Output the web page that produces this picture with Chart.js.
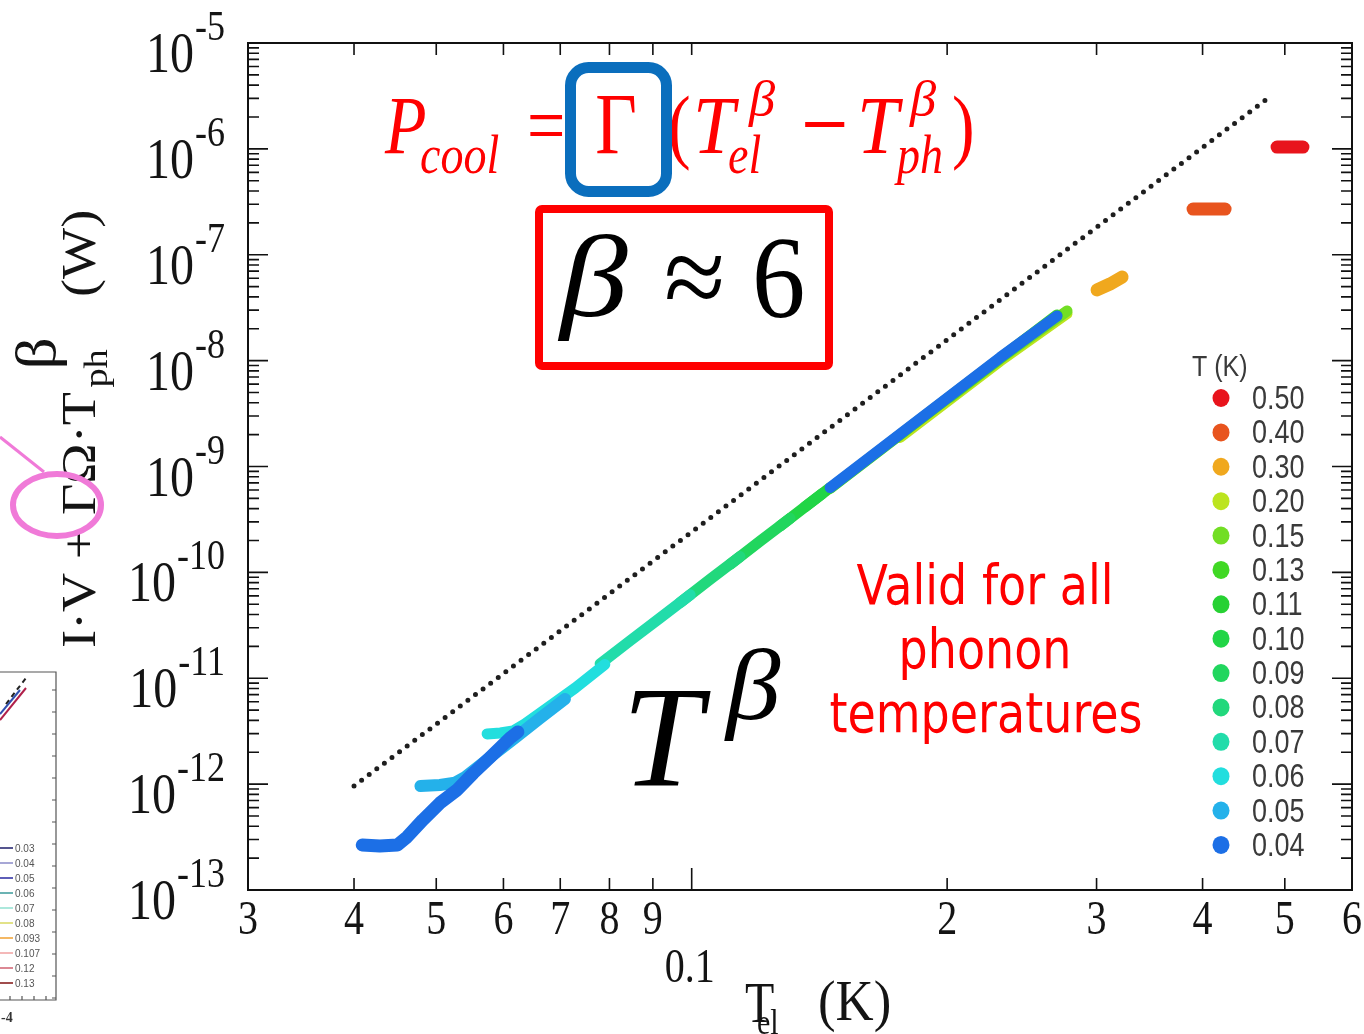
<!DOCTYPE html>
<html lang="en">
<head>
<meta charset="UTF-8">
<title>Cooling power vs electron temperature</title>
<script src="https://cdn.jsdelivr.net/npm/chart.js"></script>
<style>
  html, body { margin: 0; padding: 0; background: #fff; }
  canvas { display: block; }
</style>
</head>
<body>
<canvas id="chart" width="1364" height="1034"></canvas>
<script>
  // phonon temperatures (K) in the legend, top to bottom
  const tphLabels = ['0.50', '0.40', '0.30', '0.20', '0.15', '0.13', '0.11', '0.10', '0.09', '0.08', '0.07', '0.06', '0.05', '0.04'];
  const tphColors = ['#e8141c', '#e8541e', '#f0a81e', '#bce41f', '#72de24', '#40d824', '#27d133', '#21d546', '#21d65e', '#21d87c', '#22dcaa', '#22dede', '#24b1ea', '#1c6fe6'];

  // [T_el (K), I·V + ΓΩ·T_ph^β (W)] along each measured curve
  const s050 = [[0.4896, 1.04e-6], [0.5071, 1.04e-6], [0.5252, 1.04e-6]];
  const s040 = [[0.3898, 2.70e-7], [0.4071, 2.70e-7], [0.4252, 2.70e-7]];
  const s030 = [[0.3004, 4.65e-8], [0.3111, 5.29e-8], [0.3215, 6.16e-8]];
  const s020 = [[0.1760, 1.88e-9], [0.2309, 9.9e-9], [0.2769, 2.78e-8]];
  const s015 = [[0.2016, 4.5e-9], [0.2309, 1.04e-8], [0.2769, 2.94e-8]];
  const s013 = [[0.1456, 6.2e-10], [0.2016, 4.6e-9], [0.2695, 2.7e-8]];
  const s011 = [[0.1360, 4.16e-10], [0.1456, 6.31e-10]];
  const s010 = [[0.1271, 2.74e-10], [0.1360, 4.16e-10], [0.1424, 5.52e-10]];
  const s009 = [[0.1110, 1.19e-10], [0.1204, 1.97e-10], [0.1306, 3.24e-10]];
  const s008 = [[0.0969, 5.19e-11], [0.1051, 8.57e-11], [0.1140, 1.41e-10]];
  const s007 = [[0.0780, 1.37e-11], [0.0846, 2.26e-11], [0.0918, 3.72e-11], [0.0996, 6.14e-11]];
  const s006 = [[0.0574, 2.98e-12], [0.0595, 3.04e-12], [0.0616, 3.18e-12], [0.0636, 3.70e-12], [0.0681, 5.47e-12], [0.0729, 8.09e-12], [0.0790, 1.35e-11]];
  const s005 = [[0.0479, 9.60e-13], [0.0505, 9.81e-13], [0.0526, 1.03e-12], [0.0541, 1.17e-12], [0.0579, 1.80e-12], [0.0619, 2.73e-12], [0.0663, 4.21e-12], [0.0709, 6.37e-12]];
  const s004 = [[0.0409, 2.66e-13], [0.0429, 2.60e-13], [0.0450, 2.66e-13], [0.0462, 3.17e-13], [0.0482, 4.58e-13], [0.0505, 6.63e-13], [0.0529, 8.80e-13], [0.0553, 1.27e-12], [0.0579, 1.80e-12], [0.0611, 2.73e-12], [0.0624, 3.11e-12]];
  const s004hi = [[0.1456, 6.31e-10], [0.1760, 2.02e-9], [0.2016, 4.64e-9], [0.2309, 1.07e-8], [0.2695, 2.64e-8]];

  // T^6 guide line end points
  const guide = [[0.040, 9.6e-13], [0.478, 3.02e-6]];

  // axis ticks
  const xTicks = [0.03, 0.04, 0.05, 0.06, 0.07, 0.08, 0.09, 0.1, 0.2, 0.3, 0.4, 0.5, 0.6];
  const xTickText = ['3', '4', '5', '6', '7', '8', '9', '0.1', '2', '3', '4', '5', '6'];
  const yExponents = [-5, -6, -7, -8, -9, -10, -11, -12, -13];

  const SERIF = '"Liberation Serif", "DejaVu Serif", serif';
  const SANS = '"Liberation Sans", Arial, sans-serif';

  const pts = arr => arr.map(p => ({ x: p[0], y: p[1] }));

  function curve(data, idx, width, order) {
    return {
      label: tphLabels[idx],
      data: pts(data),
      showLine: true,
      borderColor: tphColors[idx],
      backgroundColor: tphColors[idx],
      borderWidth: width,
      borderCapStyle: 'round',
      borderJoinStyle: 'round',
      pointRadius: 0,
      order: order
    };
  }

  const datasets = [
    curve(s004, 13, 13, 0),
    curve(s004hi, 13, 11, 0),
    curve(s005, 12, 12, 1),
    curve(s006, 11, 11, 2),
    curve(s007, 10, 11, 3),
    curve(s008, 9, 11, 4),
    curve(s009, 8, 11, 5),
    curve(s010, 7, 11, 6),
    curve(s011, 6, 11, 7),
    curve(s013, 5, 11, 8),
    curve(s015, 4, 11, 9),
    curve(s020, 3, 11, 10),
    curve(s030, 2, 13, 11),
    curve(s040, 1, 13, 11),
    curve(s050, 0, 13, 11),
    {
      label: 'T^6',
      data: pts(guide),
      showLine: true,
      borderColor: '#1e1e1e',
      borderWidth: 5,
      borderDash: [0, 9.5],
      borderCapStyle: 'round',
      pointRadius: 0,
      order: 12
    }
  ];

  // text with the slightly tall letter shapes used throughout the figure
  function put(ctx, s, x, y, font, color, align = 'left', sx = 1, sy = 1.2) {
    ctx.save();
    ctx.translate(x, y);
    ctx.scale(sx, sy);
    ctx.font = font;
    ctx.fillStyle = color;
    ctx.textAlign = align;
    ctx.textBaseline = 'alphabetic';
    ctx.fillText(s, 0, 0);
    ctx.restore();
  }

  const axesPlugin = {
    id: 'axesPlugin',
    beforeDatasetsDraw(chart) {
      const { ctx, chartArea: a, scales: { x, y } } = chart;
      ctx.save();
      ctx.strokeStyle = '#111';
      ctx.lineWidth = 2;
      ctx.strokeRect(a.left, a.top, a.right - a.left, a.bottom - a.top);

      ctx.lineWidth = 1.6;
      ctx.beginPath();
      xTicks.forEach(v => {
        const px = x.getPixelForValue(v);
        const len = v === 0.1 ? 22 : 12;
        ctx.moveTo(px, a.bottom); ctx.lineTo(px, a.bottom - len);
        ctx.moveTo(px, a.top); ctx.lineTo(px, a.top + 12);
      });
      for (let e = -13; e <= -5; e++) {
        for (let m = 1; m <= 9; m++) {
          if (e === -5 && m > 1) break;
          const py = y.getPixelForValue(m * Math.pow(10, e));
          const len = m === 1 ? 20 : 11;
          ctx.moveTo(a.left, py); ctx.lineTo(a.left + len, py);
          ctx.moveTo(a.right, py); ctx.lineTo(a.right - len, py);
        }
      }
      ctx.stroke();
      ctx.restore();
    },
    afterDraw(chart) {
      const { ctx, scales: { x, y } } = chart;
      const ink = '#141414';

      // y tick labels: 10 with exponent
      yExponents.forEach(e => {
        const py = y.getPixelForValue(Math.pow(10, e));
        const expText = '-' + String(-e);
        ctx.font = '36px ' + SERIF;
        const w = ctx.measureText(expText).width;
        put(ctx, expText, 225, py - 3, '36px ' + SERIF, ink, 'right');
        put(ctx, '10', 224 - w, py + 29, '48px ' + SERIF, ink, 'right');
      });

      // x tick labels
      xTicks.forEach((v, i) => {
        const px = x.getPixelForValue(v);
        if (v === 0.1) {
          put(ctx, xTickText[i], px - 2, 982, '40px ' + SERIF, ink, 'center');
        } else {
          put(ctx, xTickText[i], px, 934, '40px ' + SERIF, ink, 'center');
        }
      });

      // x axis title
      put(ctx, 'T', 745, 1022, '48px ' + SERIF, ink);
      put(ctx, 'el', 757, 1034, '30px ' + SERIF, ink);
      put(ctx, '(K)', 818, 1020, '48px ' + SERIF, ink, 'left', 1.1);

      // y axis title, rotated
      const s = 1.13;
      ctx.save();
      ctx.translate(95, 648);
      ctx.rotate(-Math.PI / 2);
      ctx.scale(s, 1);
      ctx.fillStyle = ink;
      ctx.textBaseline = 'alphabetic';
      ctx.font = '48px ' + SERIF;
      ctx.fillText('I·V + ΓΩ·T', 0, 0);
      const tEnd = ctx.measureText('I·V + ΓΩ·T').width;
      ctx.font = '34px ' + SERIF;
      ctx.fillText('ph', tEnd + 4, 12);
      ctx.font = '56px ' + SERIF;
      ctx.fillText('β', tEnd + 20, -40);
      ctx.font = '48px ' + SERIF;
      ctx.fillText('(W)', (648 - 297) / s, 0);
      ctx.restore();

      // pink marker around Γ
      ctx.save();
      ctx.strokeStyle = '#f07ad8';
      ctx.lineWidth = 3;
      ctx.beginPath();
      ctx.moveTo(0, 437); ctx.lineTo(44, 472);
      ctx.stroke();
      ctx.lineWidth = 6;
      ctx.beginPath();
      ctx.ellipse(57, 505, 44, 31, 0, 0, Math.PI * 2);
      ctx.stroke();
      ctx.restore();

      // cooling power formula
      const red = '#ff0000';
      put(ctx, 'P', 385, 153, 'italic 68px ' + SERIF, red);
      put(ctx, 'cool', 420, 173, 'italic 46px ' + SERIF, red);
      put(ctx, '=', 527, 153, '68px ' + SERIF, red);
      put(ctx, 'Γ', 616, 153, '72px ' + SERIF, red, 'center');
      put(ctx, '(', 668, 153, '68px ' + SERIF, red);
      put(ctx, 'T', 693, 153, 'italic 68px ' + SERIF, red, 'left', 1.1);
      put(ctx, 'β', 749, 116, 'italic 42px ' + SERIF, red, 'left', 1.25);
      put(ctx, 'el', 728, 173, 'italic 46px ' + SERIF, red);
      put(ctx, '−', 801, 158, '84px ' + SERIF, red);
      put(ctx, 'T', 857, 153, 'italic 68px ' + SERIF, red, 'left', 1.1);
      put(ctx, 'β', 910, 116, 'italic 42px ' + SERIF, red, 'left', 1.25);
      put(ctx, 'ph', 897, 173, 'italic 46px ' + SERIF, red);
      put(ctx, ')', 952, 153, '68px ' + SERIF, red);

      ctx.save();
      ctx.strokeStyle = '#0a6ebd';
      ctx.lineWidth = 11;
      ctx.beginPath();
      ctx.roundRect(570.5, 67.5, 96, 124, 18);
      ctx.stroke();
      ctx.strokeStyle = red;
      ctx.lineWidth = 8;
      ctx.beginPath();
      ctx.roundRect(539, 209, 290, 157, 3);
      ctx.stroke();
      ctx.restore();

      put(ctx, 'β', 560, 316, 'italic 97px ' + SERIF, '#000', 'left', 1.4);
      put(ctx, '≈', 664, 316, '97px ' + SERIF, '#000', 'left', 1.15);
      put(ctx, '6', 752, 317, '97px ' + SERIF, '#000', 'left', 1.1);

      put(ctx, 'T', 622, 785, 'italic 120px ' + SERIF, '#000', 'left', 1.2);
      put(ctx, 'β', 726, 719, 'italic 84px ' + SERIF, '#000', 'left', 1.3);

      const note = '46px "DejaVu Sans", Verdana, sans-serif';
      put(ctx, 'Valid for all', 985, 604, note, red, 'center');
      put(ctx, 'phonon', 985, 668, note, red, 'center');
      put(ctx, 'temperatures', 986, 732, note, red, 'center');

      // legend
      put(ctx, 'T (K)', 1192, 376, '25px ' + SANS, '#3a3a3a');
      tphLabels.forEach((lab, i) => {
        const dy = 398 + i * 34.38;
        ctx.save();
        ctx.fillStyle = tphColors[i];
        ctx.beginPath();
        ctx.ellipse(1221, dy, 8.5, 9, 0, 0, Math.PI * 2);
        ctx.fill();
        ctx.restore();
        put(ctx, lab, 1252, dy + 11, '27px ' + SANS, '#3a3a3a');
      });

      // edge of the neighbouring panel
      ctx.save();
      ctx.strokeStyle = '#555';
      ctx.lineWidth = 1.2;
      ctx.beginPath();
      ctx.moveTo(0, 672); ctx.lineTo(56, 672); ctx.lineTo(56, 1000); ctx.lineTo(0, 1000);
      for (let ty = 690; ty < 1000; ty += 22) { ctx.moveTo(56, ty); ctx.lineTo(52, ty); }
      for (let tx = 10; tx < 56; tx += 12) { ctx.moveTo(tx, 1000); ctx.lineTo(tx, 996); }
      ctx.stroke();
      ctx.lineWidth = 2;
      ctx.strokeStyle = '#b0204a';
      ctx.beginPath(); ctx.moveTo(0, 720); ctx.lineTo(26, 688); ctx.stroke();
      ctx.strokeStyle = '#3050b0';
      ctx.beginPath(); ctx.moveTo(0, 714); ctx.lineTo(20, 690); ctx.stroke();
      ctx.strokeStyle = '#222';
      ctx.setLineDash([5, 4]);
      ctx.beginPath(); ctx.moveTo(6, 704); ctx.lineTo(26, 678); ctx.stroke();
      ctx.setLineDash([]);
      const insetLabels = ['0.03', '0.04', '0.05', '0.06', '0.07', '0.08', '0.093', '0.107', '0.12', '0.13'];
      const insetColors = ['#1c1c6a', '#8a8ac8', '#2828a0', '#3a9a9a', '#90e0d0', '#d8d860', '#f0a030', '#f0a0a0', '#d06070', '#801010'];
      insetLabels.forEach((lab, i) => {
        const ly = 848 + i * 15;
        ctx.strokeStyle = insetColors[i];
        ctx.lineWidth = 1.5;
        ctx.beginPath(); ctx.moveTo(0, ly); ctx.lineTo(13, ly); ctx.stroke();
        put(ctx, lab, 15, ly + 4, '10px ' + SANS, '#555', 'left', 1, 1);
      });
      ctx.restore();
      put(ctx, '-4', 1, 1022, 'bold 14px ' + SERIF, '#333', 'left', 1, 1);
    }
  };

  new Chart(document.getElementById('chart'), {
    type: 'scatter',
    data: { datasets },
    options: {
      responsive: false,
      animation: false,
      devicePixelRatio: 1,
      layout: { padding: { left: 248, right: 12, top: 43, bottom: 144 } },
      plugins: { legend: { display: false }, tooltip: { enabled: false } },
      scales: {
        x: { type: 'logarithmic', min: 0.03, max: 0.6, display: false },
        y: { type: 'logarithmic', min: 1e-13, max: 1e-5, display: false }
      }
    },
    plugins: [axesPlugin]
  });
</script>
</body>
</html>
